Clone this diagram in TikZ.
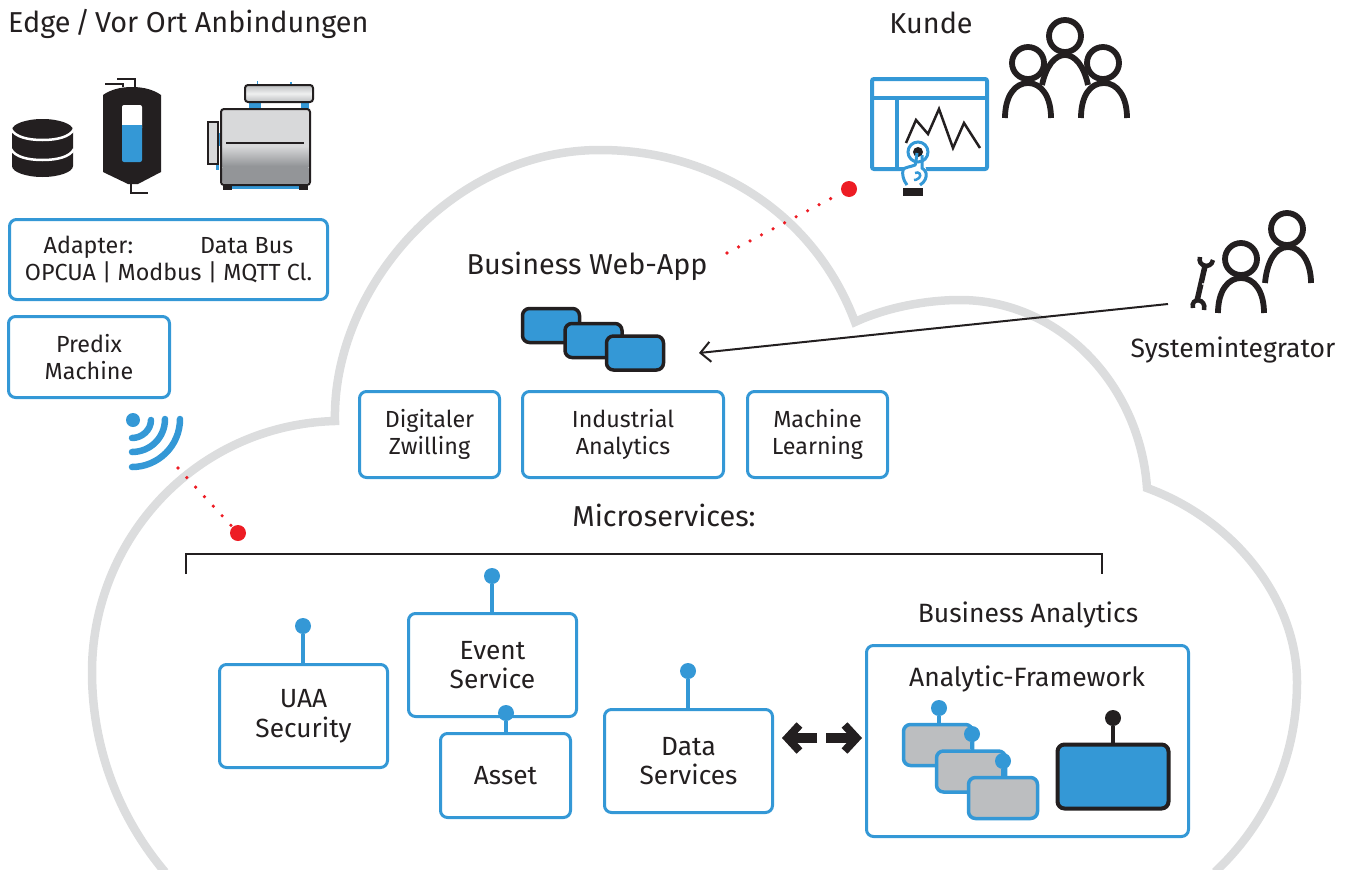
\documentclass[tikz,border=0pt]{standalone}
\usepackage{fontspec}
\setmainfont{Fira Sans}
\usepackage{tikz}
\usetikzlibrary{arrows.meta}
\definecolor{appblue}{HTML}{3498D6}
\definecolor{appblack}{HTML}{231F20}
\definecolor{appgrey}{HTML}{BCBEC0}
\definecolor{cloudgrey}{HTML}{DCDDDE}
\definecolor{appred}{HTML}{ED1C24}
\definecolor{machinegrey}{HTML}{D8D9DA}
\definecolor{machinedark}{HTML}{939598}
\tikzset{
	bigtext/.style={inner sep=0pt, text=appblack, font=\fontsize{28.8}{32}\selectfont, align=center},
	midtext/.style={inner sep=0pt, text=appblack, font=\fontsize{26.5}{30}\selectfont, align=center},
	bluebox/.style={draw=appblue, line width=3pt, rounded corners=7pt, fill=white, inner sep=0pt, text=appblack, align=center},
	smallbox/.style={bluebox, font=\fontsize{23.3}{27}\selectfont},
	servicebox/.style={bluebox, font=\fontsize{26.3}{29.5}\selectfont},
	appbox/.style={draw=appblack, line width=3.5pt, rounded corners=7pt, fill=appblue, inner sep=0pt},
	greybox/.style={draw=appblue, line width=3.5pt, rounded corners=7pt, fill=appgrey, inner sep=0pt, minimum width=69pt, minimum height=41pt},
	bluepin/.style={circle, fill=appblue, inner sep=0pt, minimum size=16pt},
	blackpin/.style={circle, fill=appblack, inner sep=0pt, minimum size=16pt},
	pinstem/.style={draw=appblue, line width=3.5pt},
	reddot/.style={circle, fill=appred, inner sep=0pt, minimum size=16pt},
	reddots/.style={draw=appred, line width=3.6pt, line cap=round, dash pattern=on 0pt off 13pt},
	fatarrow/.style={draw=appblack, line width=9.5pt, -{Straight Barb[length=12pt, width=26pt, line width=8pt]}},
	person/.style={draw=appblack, line width=5.8pt},
	icon/.style={draw=appblue, line width=4pt},
	wave/.style={draw=appblue, line width=6.5pt, line cap=round}
}
\begin{document}
\begin{tikzpicture}[x=1pt, y=-1pt]
	\useasboundingbox (0, 0) rectangle (1352, 870);
	\draw[draw=cloudgrey, line width=8.5pt] (165, 872) .. controls (117, 815) and (92, 745) .. (92, 672) .. controls (92, 540) and (195, 425) .. (335, 421) .. controls (332, 290) and (450, 150) .. (600, 150) .. controls (715, 150) and (815, 215) .. (855, 322) .. controls (885, 308) and (925, 300) .. (960, 300) .. controls (1060, 300) and (1140, 385) .. (1147, 488) .. controls (1235, 520) and (1297, 600) .. (1297, 682) .. controls (1297, 760) and (1265, 825) .. (1215, 872);
	\node[bigtext, anchor=west] (edge) at (8, 24) {Edge\,/\,Vor Ort Anbindungen};
	\node[bigtext] (kunde) at (931, 23) {Kunde};
	\node[midtext] (integrator) at (1233, 350) {Systemintegrator};
	\node[bigtext] (webapp) at (587, 266) {Business Web-App};
	\node[bigtext] (micro) at (664, 515) {Microservices:};
	\node[midtext] (banalytics) at (1028, 615) {Business Analytics};
	\fill[appblack] (12, 130) -- (12, 166) .. controls (12, 172) and (26, 177) .. (42.5, 177) .. controls (59, 177) and (73, 172) .. (73, 166) -- (73, 130) .. controls (73, 124) and (59, 119) .. (42.5, 119) .. controls (26, 119) and (12, 124) .. (12, 130) -- cycle;
	\draw[draw=white, line width=2.5pt] (11, 129) .. controls (15, 137) and (28, 140) .. (42.5, 140) .. controls (57, 140) and (70, 137) .. (74, 129);
	\draw[draw=white, line width=2.5pt] (11, 149) .. controls (15, 157) and (28, 160) .. (42.5, 160) .. controls (57, 160) and (70, 157) .. (74, 149);
	\fill[appblack] (103, 95) .. controls (110, 90) and (120, 87) .. (132, 87) .. controls (144, 87) and (154, 90) .. (161, 95) -- (161, 172) -- (138, 184) -- (128, 184) -- (103, 172) -- cycle;
	\draw[draw=appblack, line width=1.8pt] (135, 87) -- (135, 79) -- (117, 79);
	\draw[draw=appblack, line width=1.8pt] (123, 87) -- (123, 84) -- (105, 84);
	\draw[draw=appblack, line width=1.8pt] (131, 184) -- (131, 193) -- (148, 193);
	\fill[white, rounded corners=2pt] (122, 105) rectangle (142, 130);
	\fill[appblue, rounded corners=2pt] (122, 125) rectangle (142, 162);
	\fill[appblue] (122, 125) rectangle (142, 135);
	\fill[appblue] (249, 100) rectangle (261, 111);
	\fill[appblue] (301, 100) rectangle (309, 111);
	\fill[appblue] (257, 81) rectangle (258, 87);
	\fill[appblue] (290, 82) rectangle (292, 87);
	\fill[appblue] (217, 133) rectangle (221, 146);
	\fill[appblue] (216, 164) rectangle (219, 170);
	\draw[draw=appblack, fill=machinegrey, line width=1.8pt] (208, 122) rectangle (218, 164);
	\draw[top color=appgrey, bottom color=appgrey, middle color=white!60!machinegrey, draw=appblack, line width=2pt, rounded corners=3pt] (245, 85) rectangle (313, 102);
	\fill[appblack] (223, 184) rectangle (232, 190);
	\fill[appblack] (299, 184) rectangle (308, 190);
	\fill[appblue] (232, 186) rectangle (299, 188.5);
	\fill[machinegrey, rounded corners=3pt] (221, 109) rectangle (310, 185);
	\shade[top color=machinegrey, bottom color=machinedark] (222, 146) rectangle (309, 166);
	\fill[machinedark, rounded corners=3pt] (222, 166) rectangle (309, 184);
	\draw[draw=appblack, line width=2pt, rounded corners=3pt] (221, 109) rectangle (310, 185);
	\draw[draw=appblack, line width=2pt] (226, 143) -- (304, 143);
	\node[smallbox, minimum width=318pt, minimum height=80pt] (adapter) at (168.5, 259.5) {Adapter:\hspace{67pt}Data Bus\\OPCUA | Modbus | MQTT Cl.};
	\node[smallbox, minimum width=161pt, minimum height=81pt] (predix) at (89, 357) {Predix\\Machine};
	\node[smallbox, minimum width=140pt, minimum height=86pt] (zwilling) at (429.5, 434.5) {Digitaler\\Zwilling};
	\node[smallbox, minimum width=201pt, minimum height=86pt] (industrial) at (623, 434.5) {Industrial\\Analytics};
	\node[smallbox, minimum width=140pt, minimum height=86pt] (learning) at (817.5, 434.5) {Machine\\Learning};
	\node[appbox, minimum width=57pt, minimum height=34pt] (appa) at (551, 325.5) {};
	\node[appbox, minimum width=57pt, minimum height=34pt] (appb) at (593.5, 340.5) {};
	\node[appbox, minimum width=57pt, minimum height=34pt] (appc) at (635, 353) {};
	\coordinate (integratorend) at (1168, 304);
	\coordinate (apptip) at (699, 353);
	\draw[draw=appblack, line width=2pt, -{Straight Barb[length=10pt, width=20pt]}] (integratorend) -- (apptip);
	\draw[draw=appblack, line width=2pt] (186, 574) -- (186, 554) -- (1102, 554) -- (1102, 574);
	\node[servicebox, minimum width=168pt, minimum height=103pt] (uaa) at (303.5, 716) {UAA\\Security};
	\node[bluepin] (uaapin) at (303, 626) {};
	\draw[pinstem] (uaapin) -- (uaapin |- uaa.north);
	\node[servicebox, minimum width=130pt, minimum height=84pt] (asset) at (505.5, 775.5) {Asset};
	\node[servicebox, minimum width=168pt, minimum height=103pt] (event) at (492.5, 665) {Event\\Service};
	\node[bluepin] (eventpin) at (492, 576) {};
	\draw[pinstem] (eventpin) -- (eventpin |- event.north);
	\node[bluepin] (assetpin) at (506, 713) {};
	\draw[pinstem] (assetpin) -- (assetpin |- asset.north);
	\node[servicebox, minimum width=168pt, minimum height=103pt] (data) at (688.5, 761) {Data\\Services};
	\node[bluepin] (datapin) at (688, 671) {};
	\draw[pinstem] (datapin) -- (datapin |- data.north);
	\node[bluebox, minimum width=322pt, minimum height=191pt] (framework) at (1027.5, 741) {};
	\node[midtext] (frameworktext) at (1027, 679) {Analytic-Framework};
	\coordinate (gapleft) at (817, 738);
	\coordinate (gapright) at (826, 738);
	\coordinate (tipleft) at (782, 738);
	\coordinate (tipright) at (862, 738);
	\draw[fatarrow] (gapleft) -- (tipleft);
	\draw[fatarrow] (gapright) -- (tipright);
	\node[greybox] (greya) at (938, 745) {};
	\node[bluepin] (greyapin) at (939, 708) {};
	\draw[pinstem] (greyapin) -- (greyapin |- greya.north);
	\node[greybox] (greyb) at (971, 771.5) {};
	\node[bluepin] (greybpin) at (972, 734) {};
	\draw[pinstem] (greybpin) -- (greybpin |- greyb.north);
	\node[greybox] (greyc) at (1003, 798) {};
	\node[bluepin] (greycpin) at (1003, 761) {};
	\draw[pinstem] (greycpin) -- (greycpin |- greyc.north);
	\node[appbox, line width=4pt, minimum width=111pt, minimum height=64pt] (analytic) at (1113, 776.5) {};
	\node[blackpin] (analyticpin) at (1113, 718) {};
	\draw[pinstem, draw=appblack] (analyticpin) -- (analyticpin |- analytic.north);
	\node[circle, fill=appblue, inner sep=0pt, minimum size=14pt] (wifidot) at (133, 420) {};
	\draw[wave] (151, 420) .. controls (151, 430) and (142, 438) .. (132, 438);
	\draw[wave] (165, 419) .. controls (165, 438) and (150, 452) .. (132, 452);
	\draw[wave] (180, 419) .. controls (180, 446) and (158, 467) .. (132, 467);
	\coordinate (wifiend) at (178, 468);
	\node[reddot] (clouddot) at (238, 533) {};
	\draw[reddots] (wifiend) -- (clouddot);
	\coordinate (webappend) at (727, 253);
	\node[reddot] (kundedot) at (849, 189) {};
	\draw[reddots] (webappend) -- (kundedot);
	\draw[icon, rounded corners=2pt] (872, 79) rectangle (987, 169);
	\draw[icon] (872, 98) -- (987, 98);
	\draw[icon] (897, 98) -- (897, 169);
	\draw[draw=appblack, line width=2.5pt] (906, 143) -- (916, 120) -- (928, 134) -- (939, 109) -- (953, 148) -- (964, 123) -- (980, 148);
	\fill[white] (902, 172) -- (914, 160) -- (924, 160) -- (928, 178) -- (920, 187) -- (906, 187) -- cycle;
	\draw[draw=appblue, line width=3pt] (918, 152) circle[radius=10pt];
	\fill[appblack] (918, 152) circle[radius=5pt];
	\draw[draw=appblue, line width=3pt] (917, 153) .. controls (916, 160) and (916, 164) .. (915, 165) .. controls (911, 167) and (904, 167) .. (903, 170) .. controls (902, 174) and (903, 180) .. (907, 185);
	\draw[draw=appblue, line width=3pt] (922, 155) -- (922, 168) .. controls (924, 170) and (926, 171) .. (926, 173) .. controls (927, 177) and (925, 182) .. (920, 185);
	\draw[draw=appblue, line width=2.5pt] (915, 173) .. controls (919, 171) and (922, 175) .. (919, 178) .. controls (917, 180) and (915, 180) .. (914, 180);
	\fill[appblack] (903, 188) rectangle (923, 196);
	\draw[person] (1065, 36) circle[radius=16pt];
	\draw[person] (1028, 63) circle[radius=16pt];
	\draw[person] (1103, 63) circle[radius=16pt];
	\draw[person] (1042, 85) .. controls (1046, 66) and (1055, 55) .. (1065, 55) .. controls (1075, 55) and (1084, 66) .. (1088, 85);
	\draw[person] (1005, 118) .. controls (1005, 96) and (1015, 83) .. (1028, 83) .. controls (1041, 83) and (1051, 96) .. (1051, 118);
	\draw[person] (1081, 118) .. controls (1081, 96) and (1090, 83) .. (1104, 83) .. controls (1117, 83) and (1127, 96) .. (1127, 118);
	\draw[person] (1287, 229) circle[radius=16pt];
	\draw[person] (1241, 259) circle[radius=16pt];
	\draw[person] (1265, 283) .. controls (1267, 262) and (1275, 247) .. (1288, 247) .. controls (1301, 247) and (1311, 262) .. (1311, 283);
	\draw[person] (1218, 313) .. controls (1218, 291) and (1228, 278) .. (1241, 278) .. controls (1254, 278) and (1264, 291) .. (1264, 313);
	\draw[draw=appblack, line width=5.5pt] (1205, 266) -- (1197, 301);
	\draw[draw=appblack, line width=4.5pt] (1200, 257) .. controls (1197, 266) and (1211, 270) .. (1213, 260);
	\draw[draw=appblack, line width=4.5pt] (1193, 308) .. controls (1190, 297) and (1207, 298) .. (1204, 310);
	\fill[white] (1203, 284) circle[radius=1.2pt];
\end{tikzpicture}
\end{document}
